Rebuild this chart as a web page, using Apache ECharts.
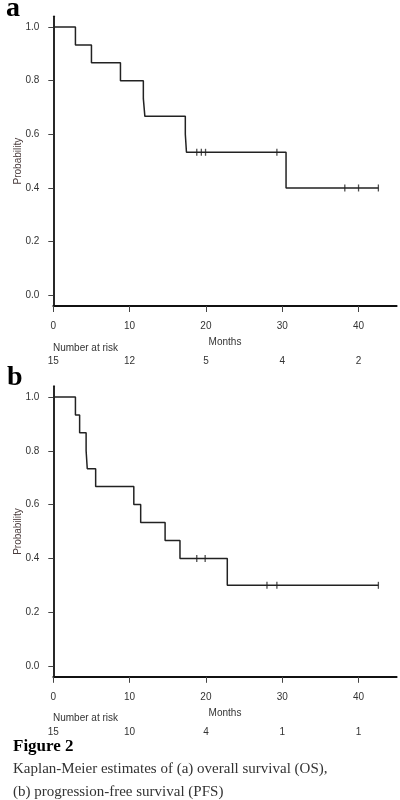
<!DOCTYPE html>
<html>
<head>
<meta charset="utf-8">
<script src="https://cdn.jsdelivr.net/npm/echarts@6/dist/echarts.min.js"></script>
<style>
html,body{margin:0;padding:0;background:#fff;}
#c{width:400px;height:800px;}
</style>
</head>
<body>
<div id="c"></div>
<script>
// ---- Data ----
const monthTicks = [0, 10, 20, 30, 40];
const probTicks = [0, 0.2, 0.4, 0.6, 0.8, 1.0];

// (a) Overall survival
const osTime = [0, 2.9, 5.0, 8.8, 11.8, 12.0, 17.3, 17.45, 30.5, 42.6];
const osSurv = [1, 0.933, 0.867, 0.8, 0.733, 0.667, 0.6, 0.533, 0.4, 0.4];
const osCensorTime = [18.8, 19.4, 19.95, 29.3, 38.2, 40.0, 42.6];
const osCensorSurv = [0.533, 0.533, 0.533, 0.533, 0.4, 0.4, 0.4];
const osRisk = [15, 12, 5, 4, 2];

// (b) Progression-free survival
const pfsTime = [0, 2.9, 3.45, 4.3, 4.45, 5.55, 10.55, 11.45, 14.65, 16.6, 22.8, 42.6];
const pfsSurv = [1, 0.933, 0.867, 0.8, 0.733, 0.667, 0.6, 0.533, 0.467, 0.4, 0.3, 0.3];
const pfsCensorTime = [18.8, 19.9, 28.0, 29.3, 42.6];
const pfsCensorSurv = [0.4, 0.4, 0.3, 0.3, 0.3];
const pfsRisk = [15, 10, 4, 1, 1];

// ---- Build ----
const zip = (a, b) => a.map((v, i) => [v, b[i]]);
const sans = 'Liberation Sans, Arial, sans-serif';
const serif = 'Liberation Serif, Times New Roman, serif';
const labelColor = '#333';

function mainX(gi) {
  return {
    type: 'value', gridIndex: gi, min: 0, max: 45,
    name: 'Months', nameLocation: 'middle', nameGap: 31, nameMoveOverlap: false,
    nameTextStyle: {fontFamily: sans, fontSize: 10, color: labelColor},
    axisLine: {show: true, onZero: false, lineStyle: {color: '#111', width: 1.8}},
    axisTick: {show: true, length: 6, customValues: monthTicks, lineStyle: {color: '#444', width: 1}},
    axisLabel: {customValues: monthTicks, margin: 15, fontFamily: sans, fontSize: 10, color: labelColor},
    splitLine: {show: false}
  };
}
function riskX(gi, risk) {
  return {
    type: 'value', gridIndex: gi, min: 0, max: 45, position: 'bottom', offset: 46,
    axisLine: {show: false, onZero: false}, axisTick: {show: false}, splitLine: {show: false},
    axisLabel: {
      customValues: monthTicks, margin: 4, fontFamily: sans, fontSize: 10, color: labelColor,
      formatter: v => String(risk[monthTicks.indexOf(v)])
    }
  };
}
function mainY(gi) {
  return {
    type: 'value', gridIndex: gi, min: -0.04, max: 1.04,
    name: 'Probability', nameLocation: 'middle', nameGap: 30, nameRotate: 90, nameMoveOverlap: false,
    nameTextStyle: {fontFamily: sans, fontSize: 10, color: '#4a3c3c'},
    axisLine: {show: true, onZero: false, lineStyle: {color: '#111', width: 1.8}},
    axisTick: {show: true, length: 5, customValues: probTicks, lineStyle: {color: '#444', width: 1}},
    axisLabel: {customValues: probTicks, margin: 14, fontFamily: sans, fontSize: 10, color: labelColor,
      formatter: v => v.toFixed(1)},
    splitLine: {show: false}
  };
}
function curve(xi, yi, t, s) {
  return {
    type: 'line', xAxisIndex: xi, yAxisIndex: yi, step: 'end', showSymbol: false,
    data: zip(t, s), lineStyle: {color: '#222', width: 1.5}, silent: true
  };
}
function censors(xi, yi, t, s) {
  return {
    type: 'scatter', xAxisIndex: xi, yAxisIndex: yi, symbol: 'rect', symbolSize: [1.3, 7],
    data: zip(t, s), itemStyle: {color: '#222'}, silent: true
  };
}
function txt(text, left, top, font, size, weight, color) {
  return {text: text, left: left, top: top, padding: 0,
    textStyle: {fontFamily: font, fontWeight: weight, fontSize: size, color: color}};
}

const chart = echarts.init(document.getElementById('c'), null, {renderer: 'canvas'});
chart.setOption({
  animation: false,
  backgroundColor: '#fff',
  grid: [
    {left: 53.3, right: 3.3, top: 16.3, height: 289.7, containLabel: false, outerBoundsMode: 'none'},
    {left: 53.3, right: 3.3, top: 386.2, height: 290.6, containLabel: false, outerBoundsMode: 'none'}
  ],
  xAxis: [mainX(0), riskX(0, osRisk), mainX(1), riskX(1, pfsRisk)],
  yAxis: [mainY(0), mainY(1)],
  series: [
    curve(0, 0, osTime, osSurv),
    censors(0, 0, osCensorTime, osCensorSurv),
    curve(2, 1, pfsTime, pfsSurv),
    censors(2, 1, pfsCensorTime, pfsCensorSurv)
  ],
  title: [
    txt('a', 6, -5.5, serif, 28, 'bold', '#000'),
    txt('b', 7, 363.5, serif, 28, 'bold', '#000'),
    txt('Number at risk', 53, 343, sans, 10, 'normal', labelColor),
    txt('Number at risk', 53, 713, sans, 10, 'normal', labelColor),
    txt('Figure 2', 13, 738.5, serif, 17, 'bold', '#000'),
    txt('Kaplan-Meier estimates of (a) overall survival (OS),', 13, 761.5, serif, 15, 'normal', '#333'),
    txt('(b) progression-free survival (PFS)', 13, 784.5, serif, 15, 'normal', '#333')
  ]
});
</script>
</body>
</html>
